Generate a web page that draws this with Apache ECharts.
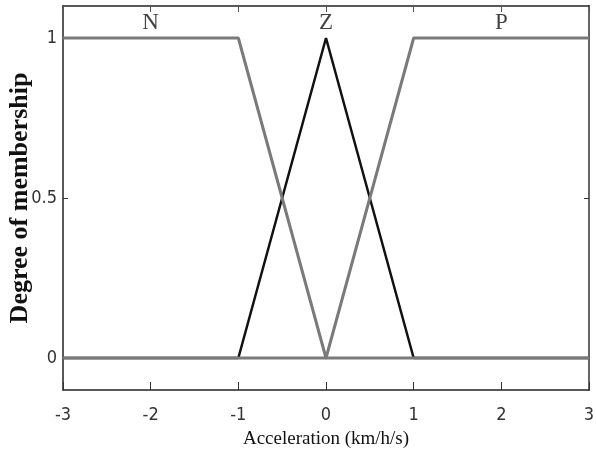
<!DOCTYPE html>
<html>
<head>
<meta charset="utf-8">
<script src="https://cdn.jsdelivr.net/npm/echarts@6/dist/echarts.min.js"></script>
<style>
  html, body { margin: 0; padding: 0; background: #fff; }
  #main { width: 596px; height: 468px; }
</style>
</head>
<body>
<div id="main"></div>
<script>
var chartDom = document.getElementById('main');
var myChart = echarts.init(chartDom);
var option;

// membership functions (x, degree)
var mfN = [[-3, 1], [-1, 1], [0, 0], [3, 0]];
var mfZ = [[-3, 0], [-1, 0], [0, 1], [1, 0], [3, 0]];
var mfP = [[-3, 0], [0, 0], [1, 1], [3, 1]];
var mfNames = ['N', 'Z', 'P'];
var mfLabelX = [-2, 0, 2];
var mfLabelY = 1.048;
var yTicks = [0, 0.5, 1];

var labelData = [];
for (var i = 0; i < mfNames.length; i++) {
  labelData.push({ value: [mfLabelX[i], mfLabelY], name: mfNames[i] });
}

var tickFont = '"DejaVu Sans Condensed", "Liberation Sans Narrow", "Liberation Sans", sans-serif';
var serif = '"Liberation Serif", "Times New Roman", serif';

option = {
  animation: false,
  backgroundColor: '#fff',
  grid: { left: 63, right: 7, top: 6, bottom: 78, outerBoundsMode: 'none', containLabel: false },
  xAxis: [
    {
      type: 'value',
      min: -3, max: 3, interval: 1,
      name: 'Acceleration (km/h/s)',
      nameLocation: 'middle',
      nameGap: 40,
      nameMoveOverlap: false,
      nameTextStyle: { fontFamily: serif, fontSize: 19, color: '#111' },
      axisLine: { show: true, onZero: false, lineStyle: { color: '#222', width: 1.5 } },
      axisTick: { show: true, inside: true, length: 8, lineStyle: { color: '#333' } },
      axisLabel: { fontFamily: tickFont, fontSize: 18, color: '#333', margin: 16 },
      splitLine: { show: false }
    },
    {
      type: 'value',
      position: 'top',
      min: -3, max: 3, interval: 1,
      axisLine: { show: true, onZero: false, lineStyle: { color: '#222', width: 1.5 } },
      axisTick: { show: true, inside: true, length: 6, lineStyle: { color: '#555' } },
      axisLabel: { show: false },
      splitLine: { show: false }
    }
  ],
  yAxis: [
    {
      type: 'value',
      min: -0.1, max: 1.1,
      name: 'Degree of membership',
      nameLocation: 'middle',
      nameGap: 30,
      nameMoveOverlap: false,
      nameTextStyle: { fontFamily: serif, fontSize: 26, fontWeight: 'bold', color: '#111' },
      axisLine: { show: true, onZero: false, lineStyle: { color: '#222', width: 1.5 } },
      axisTick: { show: true, inside: true, length: 5, customValues: yTicks, lineStyle: { color: '#333' } },
      axisLabel: { fontFamily: tickFont, fontSize: 18, color: '#333', margin: 6, customValues: yTicks },
      splitLine: { show: false }
    },
    {
      type: 'value',
      position: 'right',
      min: -0.1, max: 1.1,
      axisLine: { show: true, onZero: false, lineStyle: { color: '#666', width: 2 } },
      axisTick: { show: true, inside: true, length: 5, customValues: yTicks, lineStyle: { color: '#333' } },
      axisLabel: { show: false },
      splitLine: { show: false }
    }
  ],
  series: [
    {
      name: 'Z', type: 'line', data: mfZ, symbol: 'none', z: 2,
      lineStyle: { color: '#111', width: 2.5 }
    },
    {
      name: 'N', type: 'line', data: mfN, symbol: 'none', z: 3,
      lineStyle: { color: '#7a7a7a', width: 3 }
    },
    {
      name: 'P', type: 'line', data: mfP, symbol: 'none', z: 3,
      lineStyle: { color: '#7a7a7a', width: 3 }
    },
    {
      type: 'scatter', data: labelData, symbolSize: 0, z: 5,
      label: {
        show: true, position: 'inside', formatter: '{b}',
        fontFamily: serif, fontSize: 23, color: '#111'
      }
    }
  ]
};
option && myChart.setOption(option);
</script>
</body>
</html>
